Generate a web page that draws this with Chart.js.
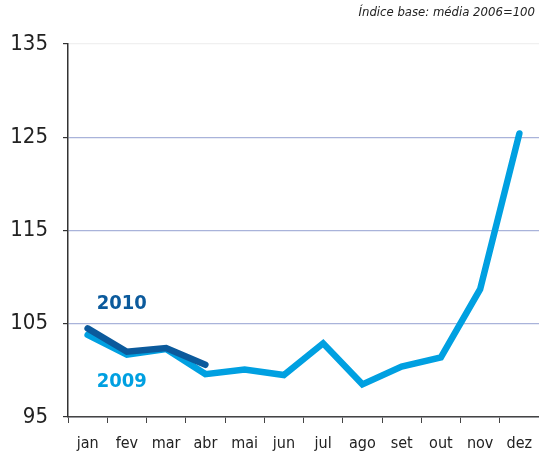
<!DOCTYPE html>
<html>
<head>
<meta charset="utf-8">
<script src="https://cdn.jsdelivr.net/npm/chart.js@4/dist/chart.umd.min.js"></script>
<style>
  html, body { margin: 0; padding: 0; background: #fff; }
  #wrap { width: 539px; height: 452px; position: relative; }
</style>
</head>
<body>
<div id="wrap"><canvas id="chart_one"></canvas></div>
<script>
const FONT = "'DejaVu Sans Condensed', 'Liberation Sans Narrow', sans-serif";

let months = ["jan", "fev", "mar", "abr", "mai", "jun", "jul", "ago", "set", "out", "nov", "dez"];
let data2009 = [103.8, 101.7, 102.3, 99.6, 100.1, 99.5, 102.9, 98.5, 100.4, 101.4, 108.7, 125.4];
let data2010 = [104.5, 102.0, 102.4, 100.6];
let yTicks = [95, 105, 115, 125, 135];
let noteText = "Índice base: média 2006=100";

const color2009 = "#00a0e1";
const color2010 = "#0b5a9c";

// series names written next to the start of the lines, plus the note on top
const seriesLabels = {
    id: "seriesLabels",
    afterDatasetsDraw(chart) {
        const ctx = chart.ctx;
        const x = chart.scales.x.getPixelForValue(0);
        const y = chart.scales.y;
        ctx.save();
        ctx.font = "bold 20px " + FONT;
        ctx.textAlign = "left";
        ctx.textBaseline = "middle";
        ctx.fillStyle = color2010;
        ctx.fillText("2010", x + 9, y.getPixelForValue(107.1));
        ctx.fillStyle = color2009;
        ctx.fillText("2009", x + 9, y.getPixelForValue(98.8));
        ctx.font = "italic 13px " + FONT;
        ctx.fillStyle = "#222";
        ctx.textAlign = "right";
        ctx.fillText(noteText, 535, 13);
        ctx.restore();
    }
};

var ChartOne = new Chart("chart_one", {
    type: "line",
    data: {
        labels: months,
        datasets: [{
            label: "2010",
            data: data2010,
            borderColor: color2010,
            borderWidth: 6.5,
            borderCapStyle: "round",
            borderJoinStyle: "miter",
            pointRadius: 0,
            tension: 0,
            order: 0
        }, {
            label: "2009",
            data: data2009,
            borderColor: color2009,
            borderWidth: 6.5,
            borderCapStyle: "round",
            borderJoinStyle: "miter",
            pointRadius: 0,
            tension: 0,
            order: 1
        }]
    },
    options: {
        responsive: true,
        maintainAspectRatio: false,
        animation: false,
        layout: { padding: { top: 44, right: -3, left: 0, bottom: 0 } },
        plugins: {
            legend: { display: false },
            tooltip: { enabled: false },
            title: { display: false }
        },
        scales: {
            x: {
                offset: true,
                grid: {
                    offset: true,
                    drawOnChartArea: false,
                    tickLength: 6,
                    tickColor: "#444"
                },
                border: { color: "#444", width: 1.5 },
                ticks: {
                    color: "#222",
                    font: { family: FONT, size: 16 },
                    padding: 11,
                    maxRotation: 0,
                    autoSkip: false
                },
                afterFit(scale) {
                    scale.height = 35;
                    scale.paddingRight = 0;
                    scale.paddingLeft = 0;
                }
            },
            y: {
                min: 95,
                max: 135,
                afterBuildTicks(scale) {
                    scale.ticks = yTicks.map(v => ({ value: v }));
                },
                grid: {
                    color: ctx => ctx.tick && ctx.tick.value === 135 ? "#f0f0f0" : "#a9b3da",
                    lineWidth: 1.2,
                    tickLength: 5,
                    tickColor: "#333"
                },
                border: { color: "#333", width: 1.5 },
                ticks: {
                    color: "#222",
                    font: { family: FONT, size: 22 },
                    padding: 15
                },
                afterFit(scale) { scale.width = 68; }
            }
        }
    },
    plugins: [seriesLabels]
});
</script>
</body>
</html>
